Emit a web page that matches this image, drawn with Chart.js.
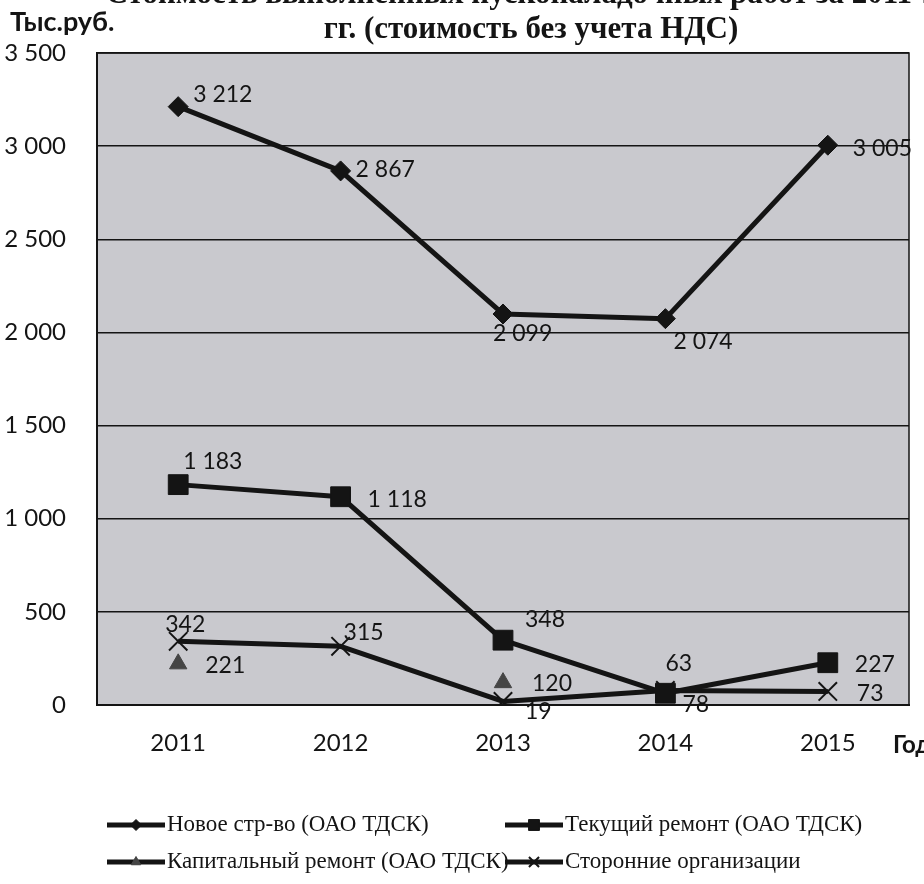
<!DOCTYPE html>
<html>
<head>
<meta charset="utf-8">
<script src="https://cdn.jsdelivr.net/npm/chart.js@4.4.1/dist/chart.umd.min.js"></script>
<style>
  html, body { margin: 0; padding: 0; background: #fff; overflow: hidden; }
  #wrap { width: 924px; height: 884px; }
</style>
</head>
<body>
<div id="wrap"><canvas id="costChart" width="924" height="884"></canvas></div>
<script>
// chart data
const years = ['2011', '2012', '2013', '2014', '2015'];
const newBuild = [3212, 2867, 2099, 2074, 3005];
const currentRepair = [1183, 1118, 348, 63, 227];
const capitalRepair = [221, null, 120, null, null];
const contractors = [342, 315, 19, 78, 73];
const seriesNames = ['Новое стр-во (ОАО ТДСК)', 'Текущий ремонт (ОАО ТДСК)', 'Капитальный ремонт (ОАО ТДСК)', 'Сторонние организации'];
const titleLines = ['Стоимость выполненных пусконаладочных работ за 2011-2015', 'гг. (стоимость без учета НДС)'];
const yUnit = 'Тыс.руб.';
const xUnit = 'Год';

// where each value label sits relative to its point [dx to text start, dy to text middle]
const labelShift = [
    [[15, -12], [15, -1], [-10, 20], [8, 23], [25, 3]],
    [[5, -23], [27, 3], [22, -21], [0, -30], [27, 2]],
    [[27, 2], null, [29, 1], null, null],
    [[-13, -17], [3, -14], [22, 10], [17, 14], [29, 2]]
];

const INK = '#141414';
const PLOT_BG = '#c9c9ce';
const sansFont = 'Lato, "Open Sans", sans-serif';
const serifFont = '"Liberation Serif", "DejaVu Serif", serif';

function fmt(v) {
    return String(v).replace(/\B(?=(\d{3})+(?!\d))/g, ' ');
}

// grey plot area + frame
const plotBackground = {
    id: 'plotBackground',
    beforeDraw(chart) {
        const { ctx, chartArea: a } = chart;
        ctx.save();
        ctx.fillStyle = '#fff';
        ctx.fillRect(0, 0, chart.width, chart.height);
        ctx.fillStyle = PLOT_BG;
        ctx.fillRect(a.left, a.top, a.right - a.left, a.bottom - a.top);
        ctx.restore();
    },
    beforeDatasetsDraw(chart) {
        const { ctx, chartArea: a } = chart;
        ctx.save();
        ctx.strokeStyle = INK;
        ctx.lineWidth = 1.5;
        ctx.strokeRect(a.left, a.top, a.right - a.left, a.bottom - a.top);
        ctx.restore();
    }
};

// value labels next to points
const valueLabels = {
    id: 'valueLabels',
    afterDatasetsDraw(chart) {
        const ctx = chart.ctx;
        ctx.save();
        ctx.font = '23px ' + sansFont;
        ctx.fillStyle = INK;
        ctx.textAlign = 'left';
        ctx.textBaseline = 'middle';
        chart.data.datasets.forEach((ds, i) => {
            const meta = chart.getDatasetMeta(i);
            ds.data.forEach((v, j) => {
                if (v === null || !labelShift[i][j]) return;
                const p = meta.data[j];
                ctx.fillText(fmt(v), p.x + labelShift[i][j][0], p.y + labelShift[i][j][1]);
            });
        });
        ctx.restore();
    }
};

// titles, axis units and the 2x2 legend
const extraText = {
    id: 'extraText',
    afterDraw(chart) {
        const ctx = chart.ctx;
        ctx.save();
        ctx.fillStyle = INK;
        ctx.textBaseline = 'middle';

        ctx.font = 'bold 31px ' + serifFont;
        ctx.textAlign = 'center';
        ctx.fillText(titleLines[0], 545, -5);
        ctx.fillText(titleLines[1], 531, 30);

        ctx.font = 'bold 27px ' + sansFont;
        ctx.textAlign = 'left';
        ctx.fillText(yUnit, 10, 22);
        ctx.font = 'bold 24px ' + sansFont;
        ctx.fillText(xUnit, 893, 745);

        // legend
        const cols = [107, 505];
        const rows = [825, 862];
        ctx.font = '23px ' + serifFont;
        chart.data.datasets.forEach((ds, i) => {
            const x = cols[i % 2];
            const y = rows[Math.floor(i / 2)];
            ctx.strokeStyle = INK;
            ctx.lineWidth = 5;
            ctx.beginPath();
            ctx.moveTo(x, y);
            ctx.lineTo(x + 58, y);
            ctx.stroke();
            ctx.fillStyle = ds.pointBackgroundColor;
            ctx.strokeStyle = ds.pointBorderColor;
            ctx.lineWidth = ds.pointBorderWidth;
            Chart.helpers.drawPoint(ctx, {
                pointStyle: ds.pointStyle,
                radius: ds.pointRadius * 0.55,
                borderWidth: ds.pointBorderWidth
            }, x + 29, y);
            ctx.fillStyle = INK;
            ctx.textAlign = 'left';
            ctx.fillText(ds.label, x + 60, y);
        });
        ctx.restore();
    }
};

function series(label, data, style, radius, fill, extra) {
    return Object.assign({
        label: label,
        data: data,
        borderColor: INK,
        backgroundColor: INK,
        borderWidth: 5,
        borderJoinStyle: 'round',
        pointStyle: style,
        pointRadius: radius,
        pointHoverRadius: radius,
        pointBackgroundColor: fill,
        pointBorderColor: fill,
        pointBorderWidth: 1,
        spanGaps: false,
        tension: 0
    }, extra || {});
}

new Chart(document.getElementById('costChart'), {
    type: 'line',
    data: {
        labels: years,
        datasets: [
            series(seriesNames[0], newBuild, 'rectRot', 10, INK),
            series(seriesNames[1], currentRepair, 'rect', 14, INK),
            series(seriesNames[2], capitalRepair, 'triangle', 10, '#454545'),
            series(seriesNames[3], contractors, 'crossRot', 13, INK, { pointBorderWidth: 2 })
        ]
    },
    options: {
        responsive: false,
        animation: false,
        devicePixelRatio: 1,
        layout: { padding: { top: 53, right: 9, bottom: 129, left: 0 } },
        plugins: {
            legend: { display: false },
            tooltip: { enabled: false },
            title: { display: false }
        },
        scales: {
            x: {
                offset: true,
                grid: { display: false, drawTicks: false, offset: true },
                border: { display: true, color: INK, width: 2 },
                ticks: { color: INK, font: { family: sansFont, size: 24 }, padding: 24 },
                afterFit(s) { s.height = 50; }
            },
            y: {
                min: 0,
                max: 3500,
                grid: { color: INK, lineWidth: 1.5, drawTicks: false },
                border: { display: true, color: INK, width: 2 },
                ticks: {
                    stepSize: 500,
                    color: INK,
                    padding: 31,
                    font: { family: sansFont, size: 24 },
                    callback: v => fmt(v)
                },
                afterFit(s) { s.width = 97; }
            }
        }
    },
    plugins: [plotBackground, valueLabels, extraText]
});
</script>
</body>
</html>
